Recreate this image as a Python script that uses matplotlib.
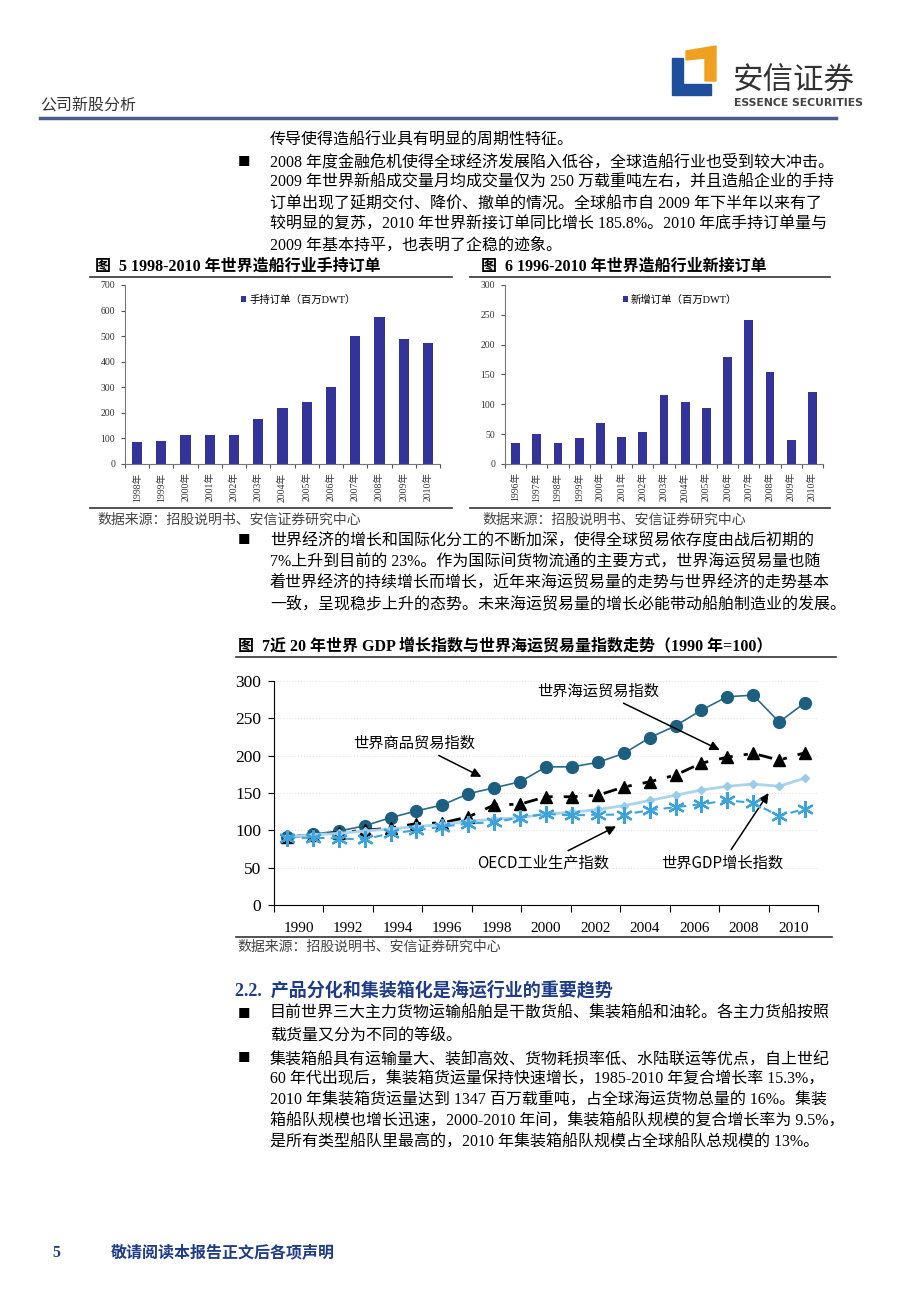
import numpy as np
import matplotlib
matplotlib.use('Agg')
import matplotlib.pyplot as plt
from matplotlib.patches import Polygon
from matplotlib.lines import Line2D

W, H = 920, 1302
SERIF_CJK = ['Liberation Serif', 'Noto Sans CJK SC']
SANS_CJK = ['Noto Sans CJK SC', 'DejaVu Sans']

# figure 5: order book 1998-2010 (million DWT)
hold_years = ['1998年', '1999年', '2000年', '2001年', '2002年', '2003年', '2004年',
              '2005年', '2006年', '2007年', '2008年', '2009年', '2010年']
hold_values = [85, 90, 112, 112, 115, 175, 219, 242, 302, 499, 576, 487, 472]

# figure 6: new orders 1996-2010 (million DWT)
new_years = ['1996年', '1997年', '1998年', '1999年', '2000年', '2001年', '2002年', '2003年',
             '2004年', '2005年', '2006年', '2007年', '2008年', '2009年', '2010年']
new_values = [36, 51, 36, 43, 68, 45, 53, 116, 104, 94, 179, 241, 154, 41, 120]

# figure 7: indices 1990-2010
idx_years = list(range(1990, 2011))
goods_trade = [91, 95, 99, 106, 117, 126, 134, 149, 157, 165, 185, 185, 191, 203, 224,
               240, 261, 279, 281, 245, 271]
sea_trade = [91, 94, 97, 100, 103, 109, 110, 118, 134, 135, 145, 145, 147, 158, 165,
             174, 190, 198, 203, 194, 204]
oecd_ip = [90, 90, 89, 88, 96, 100, 105, 109, 111, 117, 122, 120, 121, 121, 127,
           131, 135, 140, 137, 119, 129]
world_gdp = [91, 94, 96, 99, 102, 105, 108, 112, 115, 117, 122, 124, 128, 133, 140,
             147, 154, 159, 162, 159, 170]
idx_labels = [str(y) for y in range(1990, 2011, 2)]


def fx(x):
    return x / W


def fy(y):
    return 1 - y / H


def txt(x, y, s, size=11.5, family=SERIF_CJK, **kw):
    kw.setdefault('va', 'center')
    fig.text(fx(x), fy(y), s, fontsize=size, family=family, **kw)


def hline(x0, x1, y, color='#333333', lw=1.2):
    fig.add_artist(Line2D([fx(x0), fx(x1)], [fy(y), fy(y)], color=color, lw=lw,
                          transform=fig.transFigure))


def axes_px(left, top, right, bottom):
    return fig.add_axes([fx(left), fy(bottom), (right - left) / W, (bottom - top) / H])


fig = plt.figure(figsize=(W / 100, H / 100), dpi=100)

# ---------------- header ----------------
blue = Polygon([(fx(672), fy(58)), (fx(683), fy(58)), (fx(683), fy(84)), (fx(711), fy(84)),
                (fx(711), fy(95)), (fx(672), fy(95))], closed=True, color='#1d4f9c',
                transform=fig.transFigure)
orange = Polygon([(fx(686), fy(51)), (fx(716), fy(46)), (fx(716), fy(81)), (fx(705), fy(81)),
                  (fx(705), fy(58)), (fx(686), fy(60))], closed=True, color='#f0a020',
                 transform=fig.transFigure)
fig.add_artist(blue)
fig.add_artist(orange)
txt(733, 80, '安信证券', size=22, family=SANS_CJK, color='#333333')
txt(734, 103, 'ESSENCE SECURITIES', size=7.8, family=['Liberation Sans Narrow', 'DejaVu Sans'],
    weight='bold', color='#444444')
txt(40, 106, '公司新股分析', size=11.5, color='#333333')
hline(40, 836, 118, color='#4b5b8b', lw=2.5)

# ---------------- body text ----------------
X0 = 270
BUL = 238
txt(X0, 140, '传导使得造船行业具有明显的周期性特征。')
txt(BUL, 162, '■', size=9, family=SANS_CJK)
para1 = ['2008 年度金融危机使得全球经济发展陷入低谷，全球造船行业也受到较大冲击。',
         '2009 年世界新船成交量月均成交量仅为 250 万载重吨左右，并且造船企业的手持',
         '订单出现了延期交付、降价、撤单的情况。全球船市自 2009 年下半年以来有了',
         '较明显的复苏，2010 年世界新接订单同比增长 185.8%。2010 年底手持订单量与',
         '2009 年基本持平，也表明了企稳的迹象。']
for i, line in enumerate(para1):
    txt(X0, 162 + 21 * i, line)

# figure titles for bar charts
txt(95, 267, '图  5 1998-2010 年世界造船行业手持订单', size=11.5, weight='bold')
txt(481, 267, '图  6 1996-2010 年世界造船行业新接订单', size=11.5, weight='bold')
hline(90, 452, 277)
hline(470, 830, 277)
hline(90, 452, 508)
hline(470, 830, 508)
txt(97, 520, '数据来源：招股说明书、安信证券研究中心', size=10, color='#444444')
txt(482, 520, '数据来源：招股说明书、安信证券研究中心', size=10, color='#444444')

txt(BUL, 541, '■', size=9, family=SANS_CJK)
para2 = ['世界经济的增长和国际化分工的不断加深，使得全球贸易依存度由战后初期的',
         '7%上升到目前的 23%。作为国际间货物流通的主要方式，世界海运贸易量也随',
         '着世界经济的持续增长而增长，近年来海运贸易量的走势与世界经济的走势基本',
         '一致，呈现稳步上升的态势。未来海运贸易量的增长必能带动船舶制造业的发展。']
for i, line in enumerate(para2):
    txt(X0, 541 + 21 * i, line)

txt(238, 646, '图  7近 20 年世界 GDP 增长指数与世界海运贸易量指数走势（1990 年=100）',
    size=11.5, weight='bold')
hline(236, 836, 657)
hline(236, 832, 937)
txt(237, 947, '数据来源：招股说明书、安信证券研究中心', size=10, color='#444444')

txt(235, 990, '2.2.  产品分化和集装箱化是海运行业的重要趋势', size=13, weight='bold',
    color='#1f3c88')
txt(BUL, 1014, '■', size=9, family=SANS_CJK)
txt(X0, 1014, '目前世界三大主力货物运输船舶是干散货船、集装箱船和油轮。各主力货船按照')
txt(X0, 1036, '载货量又分为不同的等级。')
txt(BUL, 1059, '■', size=9, family=SANS_CJK)
para3 = ['集装箱船具有运输量大、装卸高效、货物耗损率低、水陆联运等优点，自上世纪',
         '60 年代出现后，集装箱货运量保持快速增长，1985-2010 年复合增长率 15.3%，',
         '2010 年集装箱货运量达到 1347 百万载重吨，占全球海运货物总量的 16%。集装',
         '箱船队规模也增长迅速，2000-2010 年间，集装箱船队规模的复合增长率为 9.5%，',
         '是所有类型船队里最高的，2010 年集装箱船队规模占全球船队总规模的 13%。']
for i, line in enumerate(para3):
    txt(X0, 1059 + 21 * i, line)

# footer
txt(52, 1253, '5', size=11.5, weight='bold', color='#1f3c88')
txt(111, 1253, '敬请阅读本报告正文后各项声明', size=11.5, weight='bold', color='#1f3c88')


# ---------------- bar charts ----------------
def bar_chart(ax, labels, values, ymax, step, legend):
    n = len(labels)
    ax.bar(np.arange(n), values, width=0.42, color='#333399', label=legend, zorder=2)
    ax.set_xlim(-0.5, n - 0.5)
    ax.set_ylim(0, ymax)
    ax.set_yticks(np.arange(0, ymax + 1, step))
    ax.set_xticks(np.arange(-0.5, n, 1))
    ax.set_xticklabels([])
    ax.set_xticks(np.arange(n), minor=True)
    ax.set_xticklabels(labels, minor=True, rotation=90, fontsize=7, family=SERIF_CJK,
                       color='#333333')
    ax.tick_params(axis='x', which='minor', length=0, pad=6)
    ax.tick_params(axis='x', which='major', length=3, direction='out', color='#555555')
    ax.tick_params(axis='y', length=3, direction='out', labelsize=7, color='#555555',
                   labelcolor='#333333', pad=4)
    for t in ax.get_yticklabels():
        t.set_family('Liberation Serif')
    for s in ['top', 'right']:
        ax.spines[s].set_visible(False)
    for s in ['left', 'bottom']:
        ax.spines[s].set_color('#777777')
        ax.spines[s].set_linewidth(0.8)
    ax.legend(loc='upper center', bbox_to_anchor=(0.55, 1.0), frameon=False,
              handlelength=0.5, handleheight=0.5, handletextpad=0.3,
              prop={'family': SERIF_CJK, 'size': 7.5})


ax5 = axes_px(125, 285, 440, 464)
bar_chart(ax5, hold_years, hold_values, 700, 100, '手持订单（百万DWT）')
ax6 = axes_px(505, 285, 823, 464)
bar_chart(ax6, new_years, new_values, 300, 50, '新增订单（百万DWT）')

# ---------------- index chart ----------------
ax7 = axes_px(274, 681, 818, 905)
x = np.arange(len(idx_years))
ax7.plot(x, goods_trade, color='#2a6a8a', lw=1.2, marker='o', ms=8.5,
         mfc='#1c5f80', mec='#1c5f80', zorder=3)
ax7.plot(x, sea_trade, color='black', lw=2, ls=(0, (5, 4, 1.5, 4)), marker='^', ms=9,
         mfc='black', mec='black', zorder=4)
ax7.plot(x, world_gdp, color='#a9d3ee', lw=2, marker='D', ms=4.5,
         mfc='#9ccbea', mec='#9ccbea', zorder=5)
ax7.plot(x, oecd_ip, color='#3ca3dc', lw=1.5, ls=(0, (4, 3)), marker=(6, 2, 0), ms=12,
         mec='#3ca3dc', mew=1.6, zorder=6)
ax7.set_xlim(-0.5, len(idx_years) - 0.5)
ax7.set_ylim(0, 300)
ax7.set_yticks(np.arange(0, 301, 50))
span = len(idx_years) / len(idx_labels)
ax7.set_xticks(-0.5 + span * np.arange(len(idx_labels) + 1))
ax7.set_xticklabels([])
ax7.set_xticks(-0.5 + span * (np.arange(len(idx_labels)) + 0.5), minor=True)
ax7.set_xticklabels(idx_labels, minor=True, fontsize=11, family='Liberation Serif')
ax7.tick_params(axis='x', which='minor', length=0, pad=12)
ax7.tick_params(axis='x', which='major', length=5, direction='out')
ax7.tick_params(axis='y', length=4, direction='out', labelsize=12.5, pad=5)
for t in ax7.get_yticklabels():
    t.set_family('Liberation Serif')
for s in ['top', 'right']:
    ax7.spines[s].set_visible(False)
ax7.grid(axis='y', color='#e4e4e4', ls=':', lw=0.8)
ax7.set_axisbelow(True)

arrow = dict(arrowstyle='-|>', color='black', lw=1.1, mutation_scale=14)
ann = dict(fontsize=11, family=SANS_CJK, ha='center', va='center', arrowprops=arrow)
ax7.annotate('世界商品贸易指数', xy=(7.6, 170), xytext=(4.9, 217), **ann)
ax7.annotate('世界海运贸易指数', xy=(16.8, 206), xytext=(12.0, 287), **ann)
ax7.annotate('OECD工业生产指数', xy=(12.8, 107), xytext=(9.9, 56), **ann)
ax7.annotate('世界GDP增长指数', xy=(18.65, 153), xytext=(16.8, 56), **ann)

fig.savefig('out.png', dpi=100)
